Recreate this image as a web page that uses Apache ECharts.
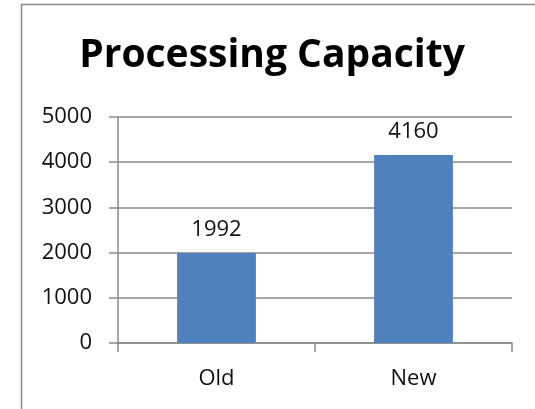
<!DOCTYPE html>
<html>
<head>
<meta charset="utf-8">
<style>
  html, body { margin: 0; padding: 0; background: #fff; }
  #chart { width: 535px; height: 409px; }
</style>
<script src="https://cdn.jsdelivr.net/npm/echarts@6/dist/echarts.min.js"></script>
</head>
<body>
<div id="chart"></div>
<script>
// Processing capacity, old vs new
const categories = ['Old', 'New'];
const capacity = [1992, 4160];
const yTicks = [0, 1000, 2000, 3000, 4000, 5000];

const FONT = '"Open Sans", sans-serif';
const GRAY = '#8a8a8a';
const chart = echarts.init(document.getElementById('chart'), null, { renderer: 'canvas' });

chart.setOption({
  animation: false,
  backgroundColor: '#fff',
  title: {
    text: 'Processing Capacity',
    left: 267,
    top: 31,
    textAlign: 'center',
    textStyle: { fontFamily: FONT, fontWeight: 'bold', fontSize: 39, color: '#000' }
  },
  graphic: [{
    type: 'rect',
    shape: { x: 21.5, y: 4.5, width: 540, height: 420 },
    style: { fill: 'none', stroke: GRAY, lineWidth: 1.5 },
    silent: true
  }],
  grid: { left: 118, right: 23, top: 117, bottom: 66, containLabel: false },
  xAxis: {
    type: 'category',
    data: categories,
    axisLine: { lineStyle: { color: GRAY, width: 1.5 } },
    axisTick: { show: true, length: 9, alignWithLabel: false, lineStyle: { color: GRAY, width: 1.5 } },
    axisLabel: { fontFamily: FONT, fontSize: 22, color: '#111', margin: 25 }
  },
  yAxis: {
    type: 'value',
    min: yTicks[0],
    max: yTicks[yTicks.length - 1],
    interval: 1000,
    axisLine: { show: true, lineStyle: { color: GRAY, width: 1.5 } },
    axisTick: { show: true, length: 9, lineStyle: { color: GRAY, width: 1.5 } },
    splitLine: { lineStyle: { color: GRAY, width: 1.5 } },
    axisLabel: {
      fontFamily: FONT, fontSize: 22, color: '#111', margin: 26,
      formatter: v => String(v)
    }
  },
  series: [{
    type: 'bar',
    data: capacity,
    barWidth: '40%',
    itemStyle: { color: '#4F81BD' },
    label: {
      show: true,
      position: 'top',
      distance: 12,
      fontFamily: FONT,
      fontSize: 22,
      color: '#111'
    }
  }]
});
</script>
</body>
</html>
